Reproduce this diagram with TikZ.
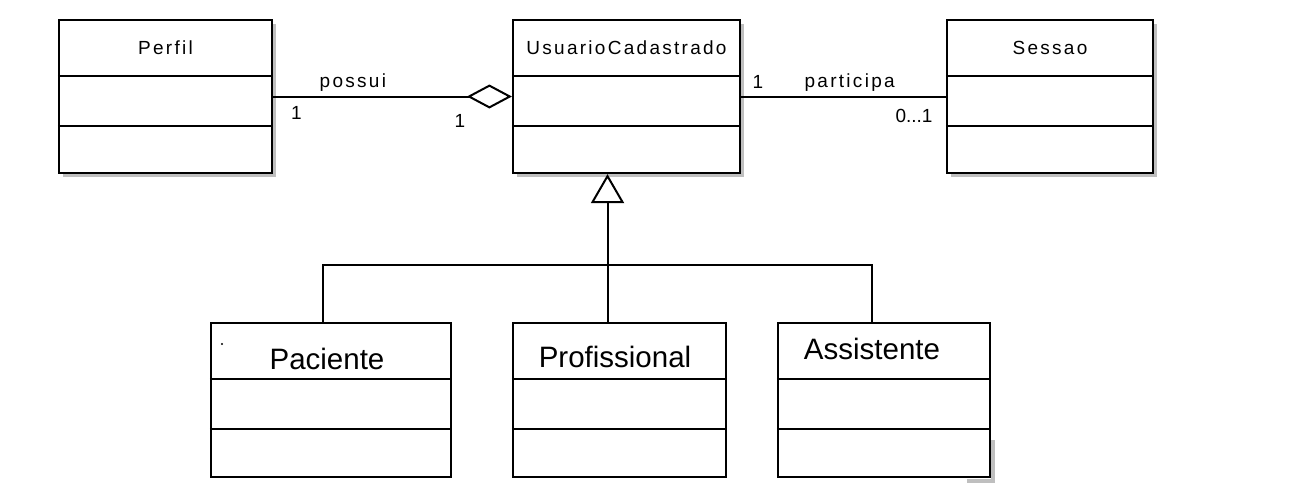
\documentclass[tikz,border=0pt]{standalone}
\usepackage{fontspec}
\setmainfont{Liberation Sans}
\newfontfamily\pixfont[LetterSpace=12]{Liberation Sans}
\usetikzlibrary{arrows.meta,positioning}

\tikzset{
  classbox/.style={draw, line width=1.1pt, fill=white, inner sep=0pt},
  smallname/.style={font=\pixfont\fontsize{9.5}{11}\selectfont, inner sep=0pt},
  bigname/.style={font=\fontsize{14.75}{17}\selectfont, inner sep=0pt},
  mult/.style={font=\pixfont\fontsize{9.5}{11}\selectfont, inner sep=0pt},
  assoc/.style={line width=1pt},
  shadowbox/.style={fill=black!25, draw=none},
}

\begin{document}
\begin{tikzpicture}[x=0.5pt,y=-0.5pt]
\useasboundingbox (0,0) rectangle (1306,487);

% shadows of the upper classes
\foreach \l/\r in {59/272,513/740,947/1153}
  \fill[shadowbox] (\l+4,24) rectangle (\r+4,177);
\fill[shadowbox] (967,479) rectangle (995,483);
\fill[shadowbox] (991,440) rectangle (995,483);

% classes
\node[classbox, minimum width=106.5pt, minimum height=76.5pt] (perfil) at (165.5,96.5) {};
\node[classbox, minimum width=113.5pt, minimum height=76.5pt] (usuario) at (626.5,96.5) {};
\node[classbox, minimum width=103pt, minimum height=76.5pt] (sessao) at (1050,96.5) {};
\node[classbox, minimum width=120pt, minimum height=77pt] (paciente) at (331,400) {};
\node[classbox, minimum width=106.5pt, minimum height=77pt] (profissional) at (619.5,400) {};
\node[classbox, minimum width=106pt, minimum height=77pt] (assistente) at (884,400) {};

\foreach \n in {perfil,usuario,sessao,paciente,profissional,assistente} {
  \draw[line width=1.1pt] ([yshift=-28.5pt]\n.north west) -- ([yshift=-28.5pt]\n.north east);
  \draw[line width=1.1pt] ([yshift=-53.5pt]\n.north west) -- ([yshift=-53.5pt]\n.north east);
}

% names
\node[smallname] (perfilname) at ([yshift=-14.5pt]perfil.north) {Perfil};
\node[smallname] (usuarioname) at ([yshift=-14.5pt]usuario.north) {UsuarioCadastrado};
\node[smallname] (sessaoname) at ([yshift=-14.5pt]sessao.north) {Sessao};
\node[bigname] (pacientename) at (327,359) {Paciente};
\node[bigname] (profissionalname) at (615,357) {Profissional};
\node[bigname] (assistentename) at (872,349) {Assistente};
\fill (222,344) circle (0.6pt);

% associations
\draw[assoc, -{Diamond[open, length=22.5pt, width=12pt]}] (perfil.east) --
  node[smallname, pos=0.334, above=2pt] (possui) {possui} (usuario.west);
\draw[assoc] (usuario.east) --
  node[smallname, pos=0.53, above=2pt] (participa) {participa} (sessao.west);
\node[mult] (m1) at (296.5,113) {1};
\node[mult] (m2) at (460,120.5) {1};
\node[mult] (m3) at (758,82) {1};
\node[mult, font=\fontsize{9.5}{11}\selectfont] (m4) at (914,115.5) {0...1};

% generalization
\coordinate (fork) at (607.5,265);
\draw[assoc, -{Triangle[open, length=14.5pt, width=16.5pt]}] (fork) -- (fork |- usuario.south);
\draw[assoc] (fork) -| ([xshift=-4pt]paciente.north);
\draw[assoc] (fork) -| ([xshift=-6pt]assistente.north);
\draw[assoc] (fork) -- (fork |- profissional.north);
\end{tikzpicture}
\end{document}
